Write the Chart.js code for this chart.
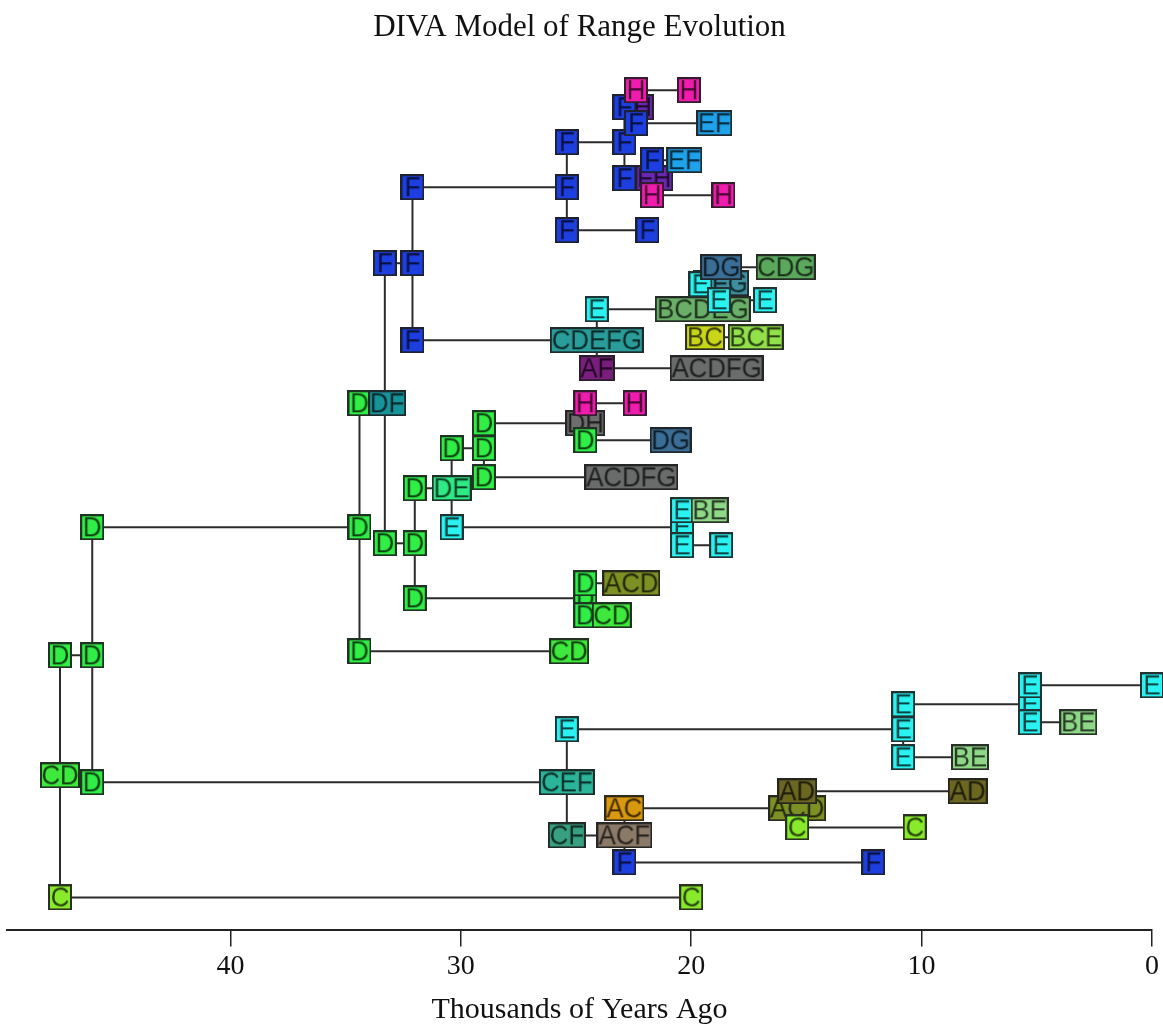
<!DOCTYPE html>
<html>
<head>
<meta charset="utf-8">
<title>DIVA Model of Range Evolution</title>
<script src="https://cdn.jsdelivr.net/npm/chart.js@4.4.0/dist/chart.umd.min.js"></script>
<style>
  html, body { margin: 0; padding: 0; background: #fff; }
  #wrap { width: 1163px; height: 1025px; }
</style>
</head>
<body>
<div id="wrap"><canvas id="myChart" width="1163" height="1025"></canvas></div>
<script>
// ancestral / tip ranges (drawing order = overlap order)
var areas = ['C', 'C', 'CD', 'D', 'D', 'D', 'D',
  'D', 'D', 'DF', 'D', 'CD', 'D', 'D', 'D', 'DE', 'D', 'D', 'D', 'ACD', 'D', 'CD',
  'D', 'D', 'D', 'D', 'ACDFG', 'E', 'E', 'E', 'BE', 'E', 'E', 'DH', 'H', 'H', 'D', 'DG',
  'F', 'F', 'F', 'F', 'CDEFG', 'E', 'AF', 'ACDFG', 'BCDEG', 'EFG', 'E', 'DG', 'CDG', 'E', 'E', 'BC', 'BCE',
  'F', 'F', 'F', 'F', 'F', 'FH', 'F', 'F', 'EF', 'H', 'H', 'FH', 'F', 'F', 'EF', 'H', 'H',
  'E', 'E', 'E', 'E', 'BE', 'E', 'E', 'E', 'BE', 'E',
  'CEF', 'CF', 'ACF', 'AC', 'F', 'F', 'ACD', 'AD', 'AD', 'C', 'C'];

// thousands of years ago
var ages = [47.4, 20.0, 47.4, 47.4, 46.0, 46.0, 46.0,
  34.4, 34.4, 33.2, 34.4, 25.3, 33.3, 32.0, 32.0, 30.4, 32.0, 24.6, 24.6, 22.6, 24.6, 23.45,
  30.4, 29.0, 29.0, 29.0, 22.6, 30.4, 20.4, 20.4, 19.2, 20.4, 18.7, 24.6, 24.6, 22.45, 24.6, 20.9,
  33.3, 32.1, 32.1, 32.1, 24.1, 24.1, 24.1, 18.9, 19.5, 18.7, 19.6, 18.7, 15.9, 18.8, 16.8, 19.4, 17.2,
  25.4, 25.4, 25.4, 21.9, 22.9, 21.6, 22.9, 21.7, 20.3, 21.7, 18.6, 22.45, 22.9, 22.4, 19.0, 22.4, 20.1,
  25.4, 10.8, 10.8, 10.8, 7.9, 5.3, 5.3, 5.3, 3.2, 0.0,
  25.4, 25.4, 22.9, 22.9, 22.9, 12.1, 15.4, 15.4, 8.0, 15.4, 10.3];

// vertical row of each node
var rows = [3.3, 3.3, 15.5, 27.5, 27.5, 14.8, 40.3,
  40.3, 52.7, 52.7, 27.9, 27.9, 38.7, 38.7, 44.2, 44.2, 33.2, 33.2, 34.7, 34.7, 31.5, 31.5,
  48.2, 48.2, 50.7, 45.3, 45.3, 40.3, 40.3, 42.0, 42.0, 38.5, 38.5, 50.7, 52.7, 52.7, 49.0, 49.0,
  66.7, 66.7, 74.3, 59.0, 59.0, 62.1, 56.2, 56.2, 62.1, 64.7, 64.6, 66.3, 66.3, 63.0, 63.0, 59.3, 59.3,
  78.8, 74.3, 70.0, 70.0, 78.8, 75.2, 75.2, 77.0, 77.0, 73.5, 73.5, 82.3, 82.3, 80.7, 80.7, 84.0, 84.0,
  20.1, 20.1, 22.6, 17.3, 17.3, 22.6, 24.5, 20.8, 20.8, 24.5,
  14.8, 9.5, 9.5, 12.2, 6.8, 6.8, 12.2, 13.9, 13.9, 10.3, 10.3];

// branches (node index pairs)
var links = [[0, 1], [0, 3], [3, 4], [5, 6], [5, 82], [6, 7], [10, 8], [10, 11], [12, 38], [12, 13],
  [16, 14], [16, 17], [14, 15], [27, 22], [22, 23], [25, 24], [24, 33], [25, 26], [27, 28], [31, 29],
  [31, 32], [36, 34], [34, 35], [36, 37], [20, 18], [18, 19],
  [38, 39], [41, 40], [40, 56], [41, 42], [44, 43], [44, 45], [43, 46], [49, 50], [51, 52], [53, 54],
  [57, 55], [55, 59], [57, 58], [61, 67], [68, 69], [70, 71], [62, 63], [64, 65],
  [83, 72], [72, 73], [75, 74], [75, 76], [74, 77], [79, 78], [78, 81], [79, 80], [83, 84], [86, 85],
  [85, 88], [86, 87], [91, 89], [89, 90], [91, 92]];

var xTicks = [0, 10, 20, 30, 40];

// kolory obszarow
var colours = {
  C: '#88ea2a', D: '#30ee46', CD: '#3ee83c', E: '#2af2f0', F: '#1d3fe0', H: '#f01cae',
  DF: '#17939a', DE: '#2eea84', BE: '#8fd888', ACD: '#7d9024', AD: '#6b6620', ACDFG: '#6a6c6c',
  DG: '#3b6e96', DH: '#6e6e6e', CDEFG: '#2a9d9a', AF: '#7a1e7e', BCDEG: '#6aaf68', CDG: '#5ba85c',
  EFG: '#3e8e9e', BC: '#c9d618', BCE: '#92e04a', EF: '#1ea2ea', FH: '#6a28b0', CEF: '#2ab49a',
  CF: '#38a080', ACF: '#8c7a68', AC: '#d8980f'
};

var boxFont = '28px "Liberation Sans", Arial, sans-serif';
var squeeze = 0.92; // litery troche wezsze niz w Arialu

// label box used as point style
function makeBox(txt) {
  var c = document.createElement('canvas');
  var g = c.getContext('2d');
  g.font = boxFont;
  var w = Math.max(24, Math.round(g.measureText(txt).width * squeeze + 3));
  if (w % 2) w++;
  c.width = w;
  c.height = 26;
  g = c.getContext('2d');
  g.fillStyle = colours[txt] || '#999';
  g.fillRect(0, 0, w, 26);
  g.strokeStyle = 'rgba(30,30,30,0.9)';
  g.lineWidth = 2;
  g.strokeRect(1, 1, w - 2, 24);
  g.save();
  g.translate(w / 2, 14);
  g.scale(squeeze, 1);
  g.font = boxFont;
  g.textAlign = 'center';
  g.textBaseline = 'middle';
  g.fillStyle = 'rgba(0,0,0,0.72)';
  g.fillText(txt, 0, 0);
  g.restore();
  return c;
}

var nodes = [];
var styles = [];
for (var i = 0; i < areas.length; i++) {
  nodes.push({ x: ages[i], y: rows[i] });
  styles.push(makeBox(areas[i]));
}

var datasets = links.map(function (l) {
  return {
    showLine: true,
    data: [{ x: ages[l[0]], y: rows[l[0]] }, { x: ages[l[1]], y: rows[l[1]] }],
    borderColor: '#2b2b2b',
    borderWidth: 2,
    pointRadius: 0,
    order: 1,
    clip: false
  };
});
datasets.push({
  data: nodes,
  pointStyle: styles,
  pointRadius: 12,
  order: 0,
  clip: false
});

var serif = '"Liberation Serif", "Times New Roman", serif';

var ctx = document.getElementById('myChart').getContext('2d');
var chart = new Chart(ctx, {
  type: 'scatter',
  data: { datasets: datasets },
  options: {
    responsive: false,
    animation: false,
    events: [],
    layout: { autoPadding: false, padding: { left: 7, right: 11, top: 0, bottom: 0 } },
    plugins: {
      legend: { display: false },
      tooltip: { enabled: false },
      title: {
        display: true,
        text: 'DIVA Model of Range Evolution',
        color: '#111',
        font: { family: serif, size: 31, weight: 'normal', lineHeight: 1.2 },
        padding: { top: 9, bottom: 14 }
      }
    },
    scales: {
      x: {
        type: 'linear',
        reverse: true,
        min: 0,
        max: 49.7,
        afterBuildTicks: function (axis) {
          axis.ticks = xTicks.map(function (v) { return { value: v }; });
        },
        ticks: { color: '#111', font: { family: serif, size: 28 }, padding: 3, maxRotation: 0 },
        grid: { drawOnChartArea: false, drawTicks: true, tickLength: 16, color: '#222', lineWidth: 1.5 },
        border: { display: true, color: '#222', width: 2 },
        title: {
          display: true,
          text: 'Thousands of Years Ago',
          color: '#111',
          font: { family: serif, size: 30, lineHeight: 1.0 },
          padding: { top: 9, bottom: 0 }
        }
      },
      y: { type: 'linear', display: false, min: 0, max: 87 }
    }
  }
});
</script>
</body>
</html>
